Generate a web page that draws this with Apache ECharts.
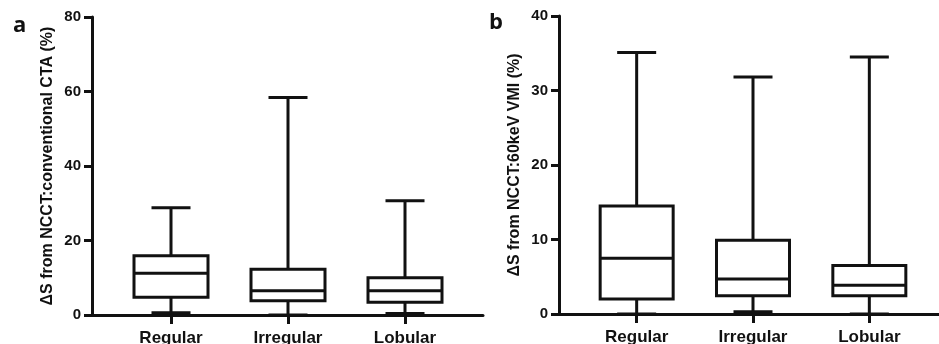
<!DOCTYPE html>
<html>
<head>
<meta charset="utf-8">
<script src="https://cdn.jsdelivr.net/npm/echarts@6/dist/echarts.min.js"></script>
<style>
  html, body { margin: 0; padding: 0; background: #fff; }
  #chart { width: 939px; height: 344px; }
</style>
</head>
<body>
<div id="chart"></div>
<script>
var categories = ['Regular', 'Irregular', 'Lobular']

// panel a: NCCT vs conventional CTA
var minA = [0.6, 0, 0.4]
var q1A = [4.75, 3.8, 3.4]
var medA = [11.2, 6.5, 6.5]
var q3A = [15.9, 12.3, 10.0]
var maxA = [28.8, 58.4, 30.7]
var ticksA = { min: 0, max: 80, interval: 20 }

// panel b: NCCT vs 60keV VMI
var minB = [0, 0.3, 0]
var q1B = [2.0, 2.45, 2.45]
var medB = [7.5, 4.7, 3.85]
var q3B = [14.5, 9.9, 6.5]
var maxB = [35.1, 31.8, 34.5]
var ticksB = { min: 0, max: 40, interval: 10 }

var ink = '#111'
var font = 'Liberation Sans, Arial, sans-serif'

var chart = echarts.init(document.getElementById('chart'))

// whiskers with short caps: box collapsed on the median, hidden by the real box
function whiskerData(mn, md, mx) {
  return mn.map(function(v, i) { return [v, md[i], md[i], md[i], mx[i]] })
}
function boxData(q1, md, q3) {
  return q1.map(function(v, i) { return [v, v, md[i], q3[i], q3[i]] })
}

function valueAxis(gridIndex, t, name, show) {
  return {
    type: 'value',
    gridIndex: gridIndex,
    min: t.min, max: t.max, interval: t.interval,
    show: show,
    name: name,
    nameLocation: 'middle',
    nameGap: 36,
    nameTextStyle: { color: ink, fontFamily: font, fontWeight: 'bold', fontSize: 16 },
    axisLine: { show: true, lineStyle: { color: ink, width: 3 } },
    axisTick: { show: true, length: 8, lineStyle: { color: ink, width: 3 } },
    axisLabel: { color: ink, fontFamily: font, fontWeight: 'bold', fontSize: 15, margin: 11 },
    splitLine: { show: false }
  }
}

function lineAxis(gridIndex) {
  return {
    type: 'value', gridIndex: gridIndex, min: 0, max: 1,
    axisLine: { show: true, lineStyle: { color: ink, width: 3 } },
    axisTick: { show: false }, axisLabel: { show: false }, splitLine: { show: false }
  }
}

function catAxis(gridIndex, show) {
  return {
    type: 'category', gridIndex: gridIndex, data: categories, show: show,
    axisLine: { show: false },
    axisTick: { show: true, alignWithLabel: true, length: 9, lineStyle: { color: ink, width: 3 } },
    axisLabel: { color: ink, fontFamily: font, fontWeight: 'bold', fontSize: 17, margin: 15 },
    splitLine: { show: false }
  }
}

function boxSeries(axisIndex, data, width, z) {
  return {
    type: 'boxplot',
    xAxisIndex: axisIndex, yAxisIndex: axisIndex,
    data: data,
    boxWidth: [width, width],
    z: z,
    silent: true,
    itemStyle: { color: '#fff', borderColor: ink, borderWidth: 3 }
  }
}

var frameA = { left: 92, right: 456, top: 17, bottom: 29, outerBoundsMode: 'none' }
var plotA = { left: 112.5, width: 351, top: 17, bottom: 29, outerBoundsMode: 'none' }
var frameB = { left: 559, right: 0, top: 16, bottom: 30, outerBoundsMode: 'none' }
var plotB = { left: 578.5, width: 349, top: 16, bottom: 30, outerBoundsMode: 'none' }

chart.setOption({
  animation: false,
  backgroundColor: '#fff',
  title: [
    { text: 'a', left: 8, top: 10, textStyle: { fontFamily: 'Open Sans', fontWeight: 'bold', fontSize: 22, color: ink } },
    { text: 'b', left: 484, top: 7, textStyle: { fontFamily: 'Open Sans', fontWeight: 'bold', fontSize: 22, color: ink } }
  ],
  grid: [frameA, plotA, plotA, frameB, plotB, plotB],
  xAxis: [lineAxis(0), catAxis(1, false), catAxis(2, true), lineAxis(3), catAxis(4, false), catAxis(5, true)],
  yAxis: [
    valueAxis(0, ticksA, 'ΔS from NCCT:conventional CTA (%)', true),
    valueAxis(1, ticksA, '', false),
    valueAxis(2, ticksA, '', false),
    valueAxis(3, ticksB, 'ΔS from NCCT:60keV VMI (%)', true),
    valueAxis(4, ticksB, '', false),
    valueAxis(5, ticksB, '', false)
  ],
  series: [
    boxSeries(1, whiskerData(minA, medA, maxA), 39, 2),
    boxSeries(2, boxData(q1A, medA, q3A), 74, 3),
    boxSeries(4, whiskerData(minB, medB, maxB), 39, 2),
    boxSeries(5, boxData(q1B, medB, q3B), 73, 3)
  ]
})
</script>
</body>
</html>
